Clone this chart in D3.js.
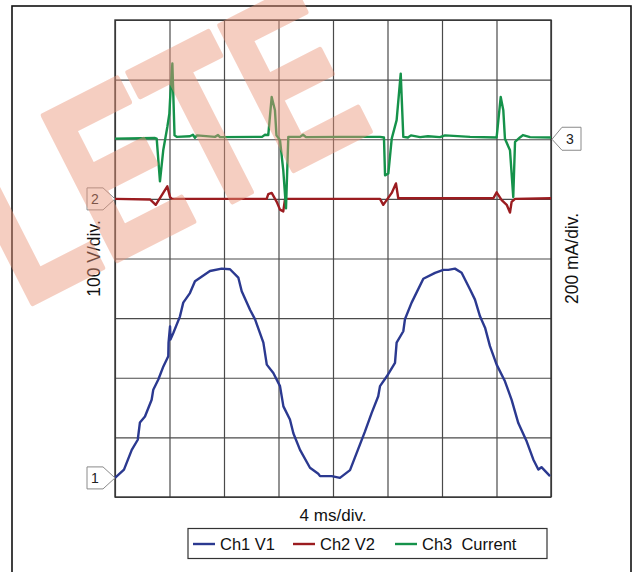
<!DOCTYPE html>
<html>
<head>
<meta charset="utf-8">
<script src="https://cdn.jsdelivr.net/npm/d3@7"></script>
<style>
  body { margin: 0; background: #fff; }
  text { font-family: "Liberation Sans", Arial, sans-serif; }
</style>
</head>
<body>
<svg id="chart" width="635" height="572"></svg>
<script>
// scope settings
const msPerDiv = 4;
const divsX = 8;
const divsY = 8;
const ch1VoltsPerDiv = 100;
const ch2VoltsPerDiv = 100;
const ch3MaPerDiv = 200;

// channel ground markers, in divisions from the bottom
const ch1Offset = 0.32;
const ch2Offset = 5.0;
const ch3Offset = 6.0;

// Ch1 V1 (ms, V)
const ch1T = [0, 0.66, 1.23, 1.67, 1.83, 2.2, 2.69, 2.81, 3.18, 3.55, 3.91, 3.93, 4.04, 4.07, 4.28, 4.77, 5.01, 5.5, 5.87, 6.97, 7.83, 8.44, 9.05, 9.3, 9.91, 10.28, 10.89, 11.14, 11.62, 12.11, 12.36, 12.84, 13.09, 13.58, 14.31, 14.92, 15.05, 15.91, 16.51, 17.25, 17.74, 18.35, 18.84, 19.32, 19.45, 19.94, 20.55, 20.67, 21.16, 21.28, 21.77, 22.63, 23.49, 24.1, 24.46, 24.95, 25.44, 26.06, 26.42, 26.79, 27.16, 27.52, 28.01, 28.62, 29.11, 29.6, 30.22, 30.7, 31.07, 31.3, 31.93];
const ch1V = [0, 14, 47, 64, 93, 103, 131, 148, 165, 187, 204, 227, 254, 232, 243, 271, 294, 310, 330, 347, 351, 350, 336, 313, 282, 266, 227, 190, 176, 154, 120, 98, 75, 47, 17, 7, 3, 3, 0, 13, 42, 78, 109, 137, 154, 170, 193, 227, 246, 266, 294, 334, 344, 349, 349, 351, 344, 316, 299, 271, 252, 221, 190, 162, 131, 92, 61, 31, 14, 18, 3];

// Ch2 V2 (ms, V)
const ch2T = [0, 2.57, 2.99, 3.54, 3.84, 4.04, 4.18, 11.13, 11.25, 11.5, 11.87, 12.11, 12.35, 12.48, 19.45, 19.69, 20.31, 20.62, 20.79, 27.77, 28.01, 28.38, 28.75, 28.99, 29.11, 29.36, 32];
const ch2V = [0, -1, -10, 10, 21, 3, 0, 0, 8, 10, -5, -18, -21, 0, 0, -10, 10, 26, 1, 1, 11, -2, -10, -23, -5, 0, 1];

// Ch3 Current (ms, mA)
const ch3T = [0, 2.94, 3.06, 3.3, 3.54, 3.84, 3.99, 4.04, 4.21, 4.37, 4.53, 5.5, 5.72, 5.87, 6.02, 7.34, 7.56, 7.71, 10.79, 11.01, 11.25, 11.5, 11.74, 11.85, 12.11, 12.35, 12.55, 12.72, 13.58, 13.8, 14.02, 16.51, 19.45, 19.74, 19.82, 20.06, 20.31, 20.67, 20.97, 21.16, 21.5, 21.72, 22.39, 22.97, 23.85, 24.22, 26.06, 28.01, 28.31, 28.5, 28.62, 28.99, 29.23, 29.36, 29.72, 29.94, 30.46, 32];
const ch3I = [2, 4, 2, -141, -37, 41, 86, 131, 254, 13, 8, 10, 15, 5, 13, 8, 14, 7, 8, 15, 14, 142, 97, 13, -3, -104, -232, 8, 8, 15, 7, 8, 8, 6, -121, -115, 2, 64, 220, 8, 6, 13, 7, 10, 7, 13, 8, 6, 142, 97, 2, -37, -194, -9, 6, 14, 7, 6];

const legendNames = ["Ch1 V1", "Ch2 V2", "Ch3\u00a0 Current"];
const colors = ["#2b3990", "#9b1c20", "#15924a"];

const svg = d3.select("#chart");
const plot = {left: 115, top: 20, right: 551, bottom: 497};
const pw = plot.right - plot.left;
const ph = plot.bottom - plot.top;

const x = d3.scaleLinear().domain([0, divsX * msPerDiv]).range([plot.left, plot.right]);
const y = d3.scaleLinear().domain([0, divsY]).range([plot.bottom, plot.top]);

// outer frame
svg.append("rect")
  .attr("x", 12).attr("y", 6)
  .attr("width", 619).attr("height", 620)
  .attr("fill", "none").attr("stroke", "#111").attr("stroke-width", 1.6);

// grid
const gx = svg.append("g")
  .attr("transform", `translate(0,${plot.bottom})`)
  .call(d3.axisBottom(x).tickValues(d3.range(0, divsX * msPerDiv + 1, msPerDiv)).tickSize(-ph).tickFormat(""));
const gy = svg.append("g")
  .attr("transform", `translate(${plot.left},0)`)
  .call(d3.axisLeft(y).tickValues(d3.range(0, divsY + 1)).tickSize(-pw).tickFormat(""));
[gx, gy].forEach(g => {
  g.select(".domain").remove();
  g.selectAll(".tick line").attr("stroke", "#4a4a4a").attr("stroke-width", 1.2);
});
svg.append("rect")
  .attr("x", plot.left).attr("y", plot.top)
  .attr("width", pw).attr("height", ph)
  .attr("fill", "none").attr("stroke", "#333").attr("stroke-width", 1.4);

// traces
const line = d3.line().x(d => x(d[0])).y(d => y(d[1]));
const traces = [
  d3.zip(ch1T, ch1V.map(v => ch1Offset + v / ch1VoltsPerDiv)),
  d3.zip(ch2T, ch2V.map(v => ch2Offset + v / ch2VoltsPerDiv)),
  d3.zip(ch3T, ch3I.map(v => ch3Offset + v / ch3MaPerDiv))
];
// draw order: red, green, blue
[1, 2, 0].forEach(i => {
  svg.append("path")
    .attr("d", line(traces[i]))
    .attr("fill", "none")
    .attr("stroke", colors[i])
    .attr("stroke-width", 2.4)
    .attr("stroke-linejoin", "round");
});

// channel markers
function marker(label, off, side) {
  const ty = y(off);
  const g = svg.append("g");
  let pts;
  if (side === "left") {
    const tx = plot.left;
    pts = [[tx, ty], [tx - 12, ty - 11], [tx - 28, ty - 11], [tx - 28, ty + 11], [tx - 12, ty + 11]];
    g.append("text").attr("x", tx - 20).attr("y", ty + 5).text(label);
  } else {
    const tx = plot.right + 1;
    pts = [[tx, ty], [tx + 10, ty - 12], [tx + 29, ty - 12], [tx + 29, ty + 11], [tx + 10, ty + 11]];
    g.append("text").attr("x", tx + 18).attr("y", ty + 5).text(label);
  }
  g.insert("path", "text")
    .attr("d", d3.line()(pts) + "Z")
    .attr("fill", "#fff").attr("stroke", "#8a8a8a").attr("stroke-width", 1);
  g.select("text").attr("text-anchor", "middle").attr("font-size", 14).attr("fill", "#222");
}
marker("1", ch1Offset, "left");
marker("2", ch2Offset, "left");
marker("3", ch3Offset, "right");

// axis captions
const midY = (plot.top + plot.bottom) / 2;
svg.append("text")
  .attr("transform", `translate(100,${midY}) rotate(-90)`)
  .attr("text-anchor", "middle").attr("font-size", 17.5).attr("fill", "#111")
  .text(`${ch1VoltsPerDiv} V/div.`);
svg.append("text")
  .attr("transform", `translate(578,${midY}) rotate(-90)`)
  .attr("text-anchor", "middle").attr("font-size", 17.5).attr("fill", "#111")
  .text(`${ch3MaPerDiv} mA/div.`);
svg.append("text")
  .attr("x", (plot.left + plot.right) / 2).attr("y", 521)
  .attr("text-anchor", "middle").attr("font-size", 17).attr("fill", "#111")
  .text(`${msPerDiv} ms/div.`);

// legend
svg.append("rect")
  .attr("x", 188).attr("y", 528.5).attr("width", 359).attr("height", 30)
  .attr("fill", "#fff").attr("stroke", "#333").attr("stroke-width", 1.2);
const legendX = [193, 293, 395];
legendNames.forEach((name, i) => {
  svg.append("line")
    .attr("x1", legendX[i]).attr("x2", legendX[i] + 22)
    .attr("y1", 544).attr("y2", 544)
    .attr("stroke", colors[i]).attr("stroke-width", 2.4);
  svg.append("text")
    .attr("x", legendX[i] + 27).attr("y", 550)
    .attr("font-size", 16.5).attr("fill", "#111")
    .text(name);
});

// watermark (condensed heavy serif, partly off the page like the original)
svg.append("text")
  .attr("transform", "translate(376,128) rotate(-27) scale(0.66,1)")
  .attr("text-anchor", "end")
  .attr("font-family", "Liberation Serif, serif")
  .attr("font-weight", "bold")
  .attr("font-size", 235)
  .attr("fill", "#eb9478")
  .attr("stroke", "#eb9478")
  .attr("stroke-width", 6)
  .attr("stroke-linejoin", "round")
  .attr("opacity", 0.45)
  .text("OBSOLETE");
</script>
</body>
</html>
